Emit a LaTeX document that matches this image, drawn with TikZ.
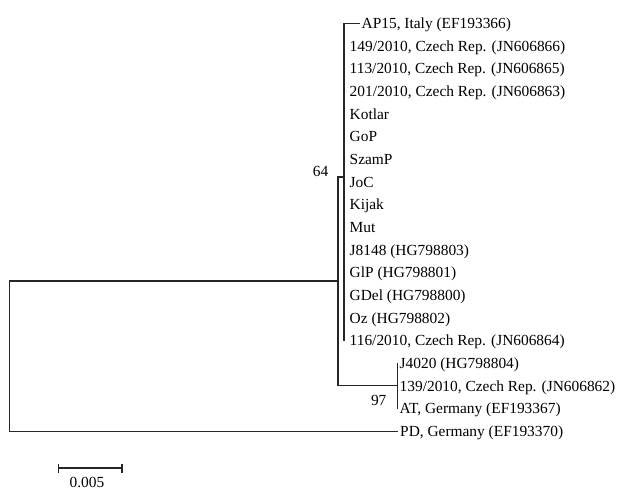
\documentclass[tikz,border=0pt]{standalone}
\usepackage{fontspec}
\setmainfont{Liberation Serif}
\usetikzlibrary{arrows.meta}

\tikzset{
    leaf/.style={anchor=west, inner xsep=2pt, inner ysep=0pt, text height=10.2pt, text depth=0pt},
    branch/.style={line width=1.2pt, draw=black!85},
    support/.style={inner sep=0pt}
}

\begin{document}
\begin{tikzpicture}[x=1pt, y=-1pt, font=\fontsize{15.4}{18}\selectfont]
                        \useasboundingbox (0, 0) rectangle (618, 490);

                        % big clade
                        \node[leaf] (ap15) at (359.5, 23.5) {AP15, Italy (EF193366)};
                        \node[leaf] (cz149) at (347.5, 46.15) {149/2010, Czech Rep. (JN606866)};
                        \node[leaf] (cz113) at (347.5, 68.8) {113/2010, Czech Rep. (JN606865)};
                        \node[leaf] (cz201) at (347.5, 91.45) {201/2010, Czech Rep. (JN606863)};
                        \node[leaf] (kotlar) at (347.5, 114.1) {Kotlar};
                        \node[leaf] (gop) at (347.5, 136.75) {GoP};
                        \node[leaf] (szamp) at (347.5, 159.4) {SzamP};
                        \node[leaf] (joc) at (347.5, 182.05) {JoC};
                        \node[leaf] (kijak) at (347.5, 204.7) {Kijak};
                        \node[leaf] (mut) at (347.5, 227.35) {Mut};
                        \node[leaf] (j8148) at (347.5, 250) {J8148 (HG798803)};
                        \node[leaf] (glp) at (347.5, 272.65) {GlP (HG798801)};
                        \node[leaf] (gdel) at (347.5, 295.3) {GDel (HG798800)};
                        \node[leaf] (oz) at (347.5, 317.95) {Oz (HG798802)};
                        \node[leaf] (cz116) at (344, 340.6) {\hspace{3.5pt}116/2010, Czech Rep. (JN606864)};

                        % small clade and outgroup
                        \node[leaf] (j4020) at (397.5, 363.25) {J4020 (HG798804)};
                        \node[leaf] (cz139) at (397.5, 385.9) {139/2010, Czech Rep. (JN606862)};
                        \node[leaf] (atger) at (397.5, 408.55) {AT, Germany (EF193367)};
                        \node[leaf] (pdger) at (398, 431.2) {PD, Germany (EF193370)};

                        \coordinate (c64) at (344, 177);
                        \coordinate (c97) at (397.5, 385.5);
                        \coordinate (cin) at (338, 281);
                        \coordinate (croot) at (9.5, 356);

                        \node[support] (s64) at (320.5, 171.5) {64};
                        \node[support] (s97) at (378.7, 400) {97};

                        \draw[branch]
                        (ap15.west) -| (c64)
                        (c64) -- (cz116.west)
                        (j4020.west) -| (c97)
                        (c97) |- (atger.west)
                        (c64) -| (cin)
                        (c97) -| (cin)
                        (cin) -| (croot)
                        (croot) |- (pdger.west);

                        % scale bar
                        \coordinate (sbl) at (57.5, 468);
                        \coordinate (sbr) at (122.5, 468);
                        \draw[branch, {Bar[width=9pt]}-{Bar[width=9pt]}] (sbl) -- (sbr);
                        \node[support] (sblab) at (87, 482.5) {0.005};
                    \end{tikzpicture}
\end{document}
